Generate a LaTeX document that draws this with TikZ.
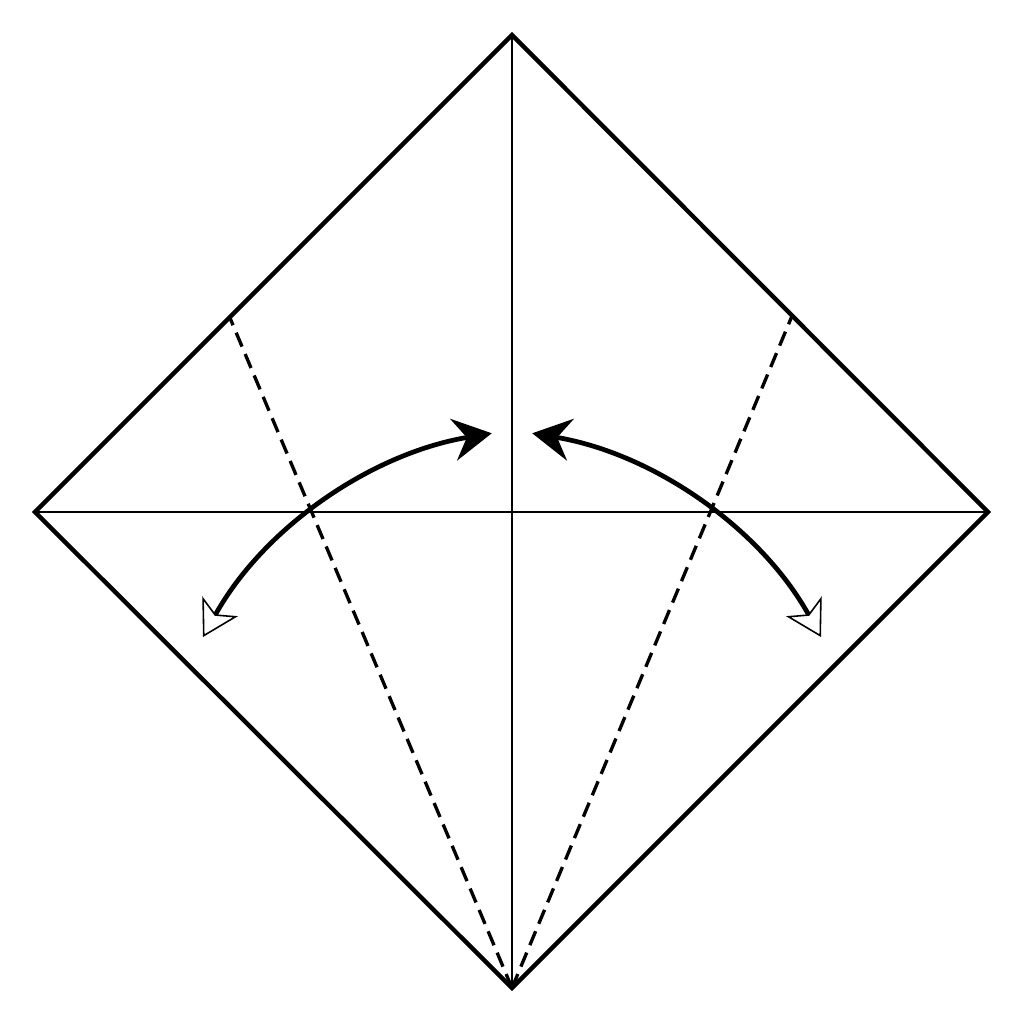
\documentclass[tikz,border=0pt]{standalone}
\usetikzlibrary{arrows.meta}
\begin{document}
\begin{tikzpicture}
\tikzset{
  edge/.style={line width=1.25pt, line join=miter},
  crease/.style={line width=0.65pt},
  valley/.style={line width=0.95pt, dash pattern=on 4.3pt off 2.3pt},
  foldarrow/.style={line width=1.35pt,
    arrows={Stealth[open, fill=white, length=10pt, width=11.6pt, inset=2.6pt, line width=0.45pt]-Stealth[length=11pt, width=12pt, inset=3.8pt]}},
}
\useasboundingbox (0,0) rectangle (10.24,10.24);
\coordinate (T) at (5.12,9.89);
\coordinate (L) at (0.35,5.12);
\coordinate (R) at (9.88,5.12);
\coordinate (B) at (5.12,0.36);
\coordinate (DL) at (2.30,7.06);
\coordinate (DR) at (7.92,7.08);
\coordinate (AL) at (2.03,3.87);
\coordinate (AR) at (8.21,3.87);
% creases
\draw[crease] (L) -- (R);
\draw[crease] (T) -- (B);
\draw[valley] (B) -- (DL);
\draw[valley] (B) -- (DR);
% square
\draw[edge] (T) -- (R) -- (B) -- (L) -- cycle;
% arrows
\draw[foldarrow] (AL) arc[start angle=150.9, end angle=99.5, radius=4.075cm];
\draw[foldarrow] (AR) arc[start angle=29.1, end angle=80.5, radius=4.075cm];
\end{tikzpicture}
\end{document}
